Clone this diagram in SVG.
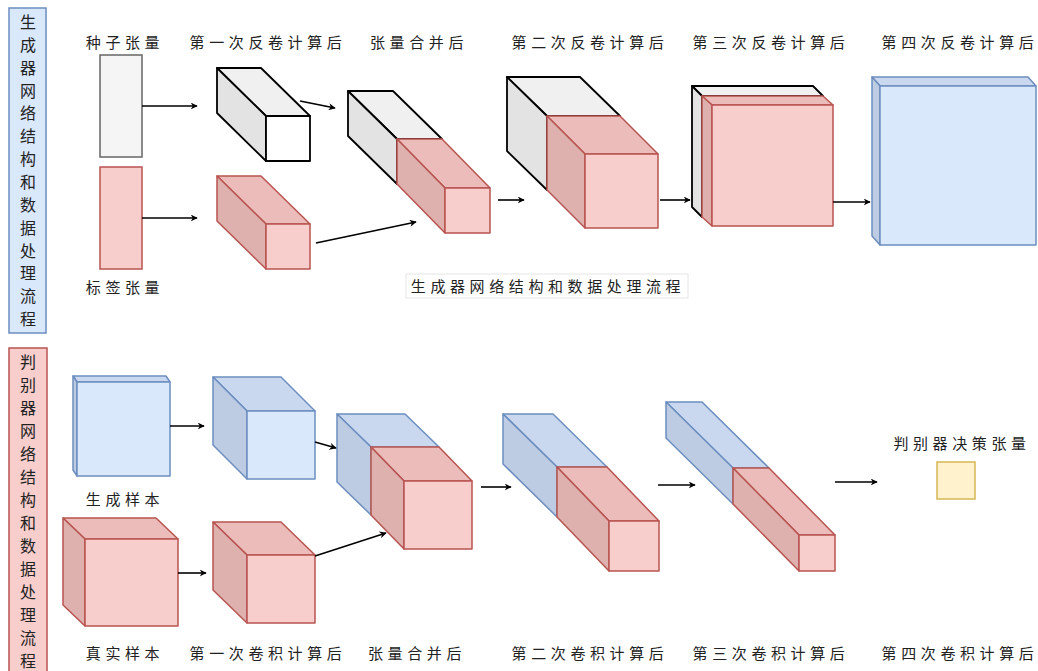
<svg xmlns="http://www.w3.org/2000/svg" width="1038" height="671" viewBox="0 0 1038 671">
  <defs>
    <marker id="arr" viewBox="0 0 10 10" refX="9" refY="5" markerWidth="7" markerHeight="7" markerUnits="userSpaceOnUse" orient="auto">
      <path d="M0,0 L10,5 L0,10 L3,5 z" fill="#000"/>
    </marker>
    <style>
      text { font-family: "Noto Sans CJK SC", "Noto Sans CJK JP", sans-serif; font-size: 15px; fill: #222; }
      .lbl { letter-spacing: 4.6px; text-anchor: middle; }
      .vt { text-anchor: middle; font-size: 16px; }
      .conn line { stroke: #000; stroke-width: 1.6; fill: none; marker-end: url(#arr); }
      .blk polygon, .blk rect { stroke: #000; stroke-width: 1.8; stroke-linejoin: round; }
      .blk .top { fill: #f0f0f0; } .blk .side { fill: #e3e3e3; } .blk .front { fill: #ffffff; }
      .pk polygon, .pk rect { stroke: #b85450; stroke-width: 1.5; stroke-linejoin: round; }
      .pk .top { fill: #ebbcba; } .pk .side { fill: #deb0ae; } .pk .front { fill: #f8cecc; }
      .bl polygon, .bl rect { stroke: #6c8ebf; stroke-width: 1.5; stroke-linejoin: round; }
      .bl .top { fill: #c9d8ee; } .bl .side { fill: #bdcce3; } .bl .front { fill: #dae8fc; }
    </style>
  </defs>

  <!-- side titles -->
  <g id="gen-title">
    <rect x="9" y="8" width="37" height="325" fill="#dae8fc" stroke="#6c8ebf" stroke-width="1.5"/>
    <text class="vt" x="28" y="28">生<tspan x="28" dy="22.85">成</tspan><tspan x="28" dy="22.85">器</tspan><tspan x="28" dy="22.85">网</tspan><tspan x="28" dy="22.85">络</tspan><tspan x="28" dy="22.85">结</tspan><tspan x="28" dy="22.85">构</tspan><tspan x="28" dy="22.85">和</tspan><tspan x="28" dy="22.85">数</tspan><tspan x="28" dy="22.85">据</tspan><tspan x="28" dy="22.85">处</tspan><tspan x="28" dy="22.85">理</tspan><tspan x="28" dy="22.85">流</tspan><tspan x="28" dy="22.85">程</tspan></text>
  </g>
  <g id="dis-title">
    <rect x="9" y="348" width="38" height="330" fill="#f8cecc" stroke="#b85450" stroke-width="1.5"/>
    <text class="vt" x="28" y="368">判<tspan x="28" dy="23">别</tspan><tspan x="28" dy="23">器</tspan><tspan x="28" dy="23">网</tspan><tspan x="28" dy="23">络</tspan><tspan x="28" dy="23">结</tspan><tspan x="28" dy="23">构</tspan><tspan x="28" dy="23">和</tspan><tspan x="28" dy="23">数</tspan><tspan x="28" dy="23">据</tspan><tspan x="28" dy="23">处</tspan><tspan x="28" dy="23">理</tspan><tspan x="28" dy="23">流</tspan><tspan x="28" dy="23">程</tspan></text>
  </g>

  <!-- generator nodes -->
  <g id="seed">
    <rect x="100" y="55" width="42" height="102" fill="#f5f5f5" stroke="#666" stroke-width="1.5"/>
    <text class="lbl" x="125" y="48">种子张量</text>
  </g>
  <g id="label-tensor">
    <rect x="100" y="167" width="42" height="102" fill="#f8cecc" stroke="#b85450" stroke-width="1.5"/>
    <text class="lbl" x="125" y="293">标签张量</text>
  </g>
  <g id="deconv1-seed" class="blk">
    <polygon class="top" points="217,68 261,68 310,116 266,116"/>
    <polygon class="side" points="217,68 266,116 266,161 217,113"/>
    <rect class="front" x="266" y="116" width="44" height="45"/>
  </g>
  <text class="lbl" x="268" y="48">第一次反卷计算后</text>
  <g id="deconv1-label" class="pk">
    <polygon class="top" points="217,176 261,176 310,224 266,224"/>
    <polygon class="side" points="217,176 266,224 266,269 217,221"/>
    <rect class="front" x="266" y="224" width="44" height="45"/>
  </g>
  <g id="gen-merge">
    <g class="blk">
      <polygon class="top" points="348,91 393,91 442,139 397,139"/>
      <polygon class="side" points="348,91 397,139 397,184 348,136"/>
    </g>
    <g class="pk">
      <polygon class="top" points="397,139 442,139 490,188 445,188"/>
      <polygon class="side" points="397,139 445,188 445,233 397,184"/>
      <rect class="front" x="445" y="188" width="45" height="45"/>
    </g>
    <text class="lbl" x="419" y="48">张量合并后</text>
  </g>
  <g id="deconv2">
    <g class="blk">
      <polygon class="top" points="507,77 580,77 620,116 547,116"/>
      <polygon class="side" points="507,77 547,116 547,190 507,151"/>
    </g>
    <g class="pk">
      <polygon class="top" points="547,116 620,116 658,154 585,154"/>
      <polygon class="side" points="547,116 585,154 585,228 547,190"/>
      <rect class="front" x="585" y="154" width="73" height="74"/>
    </g>
    <text class="lbl" x="590" y="48">第二次反卷计算后</text>
  </g>
  <g id="deconv3">
    <g class="blk">
      <polygon class="top" points="692,86 813,86 823,96 702,96"/>
      <polygon class="side" points="692,86 702,96 702,217 692,207"/>
    </g>
    <g class="pk">
      <polygon class="top" points="702,96 823,96 833,105 712,105"/>
      <polygon class="side" points="702,96 712,105 712,226 702,217"/>
      <rect class="front" x="712" y="105" width="121" height="121"/>
    </g>
    <text class="lbl" x="771" y="48">第三次反卷计算后</text>
  </g>
  <g id="deconv4" class="bl">
    <polygon class="top" points="872,77 1028,77 1036,86 880,86"/>
    <polygon class="side" points="872,77 880,86 880,245 872,236"/>
    <rect class="front" x="880" y="86" width="156" height="159"/>
    <text class="lbl" x="960" y="48" style="stroke:none">第四次反卷计算后</text>
  </g>
  <g id="gen-caption">
    <rect x="406" y="274" width="282" height="24" fill="none" stroke="#e6e6e6" stroke-width="1"/>
    <text class="lbl" x="548" y="292">生成器网络结构和数据处理流程</text>
  </g>

  <!-- discriminator nodes -->
  <g id="fake-sample" class="bl">
    <polygon class="top" points="73,376 166,376 170,382 77,382"/>
    <polygon class="side" points="73,376 77,382 77,476 73,470"/>
    <rect class="front" x="77" y="382" width="93" height="94"/>
  </g>
  <text class="lbl" x="125" y="505">生成样本</text>
  <g id="conv1-fake" class="bl">
    <polygon class="top" points="213,377 281,377 315,411 247,411"/>
    <polygon class="side" points="213,377 247,411 247,479 213,445"/>
    <rect class="front" x="247" y="411" width="68" height="68"/>
  </g>
  <g id="real-sample" class="pk">
    <polygon class="top" points="63,518 156,518 178,539 85,539"/>
    <polygon class="side" points="63,518 85,539 85,626 63,605"/>
    <rect class="front" x="85" y="539" width="93" height="87"/>
  </g>
  <text class="lbl" x="125" y="659">真实样本</text>
  <g id="conv1-real" class="pk">
    <polygon class="top" points="213,522 281,522 315,555 247,555"/>
    <polygon class="side" points="213,522 247,555 247,623 213,590"/>
    <rect class="front" x="247" y="555" width="68" height="68"/>
  </g>
  <text class="lbl" x="268" y="659">第一次卷积计算后</text>
  <g id="dis-merge">
    <g class="bl">
      <polygon class="top" points="337,414 405,414 439,447 371,447"/>
      <polygon class="side" points="337,414 371,447 371,515 337,482"/>
    </g>
    <g class="pk">
      <polygon class="top" points="371,447 439,447 472,481 404,481"/>
      <polygon class="side" points="371,447 404,481 404,549 371,515"/>
      <rect class="front" x="404" y="481" width="68" height="68"/>
    </g>
    <text class="lbl" x="417" y="659">张量合并后</text>
  </g>
  <g id="conv2">
    <g class="bl">
      <polygon class="top" points="503,414 553,414 607,467 557,467"/>
      <polygon class="side" points="503,414 557,467 557,517 503,464"/>
    </g>
    <g class="pk">
      <polygon class="top" points="557,467 607,467 659,521 609,521"/>
      <polygon class="side" points="557,467 609,521 609,571 557,517"/>
      <rect class="front" x="609" y="521" width="50" height="50"/>
    </g>
    <text class="lbl" x="590" y="659">第二次卷积计算后</text>
  </g>
  <g id="conv3">
    <g class="bl">
      <polygon class="top" points="666,402 702,402 769,468 733,468"/>
      <polygon class="side" points="666,402 733,468 733,504 666,438"/>
    </g>
    <g class="pk">
      <polygon class="top" points="733,468 769,468 835,535 799,535"/>
      <polygon class="side" points="733,468 799,535 799,571 733,504"/>
      <rect class="front" x="799" y="535" width="36" height="36"/>
    </g>
    <text class="lbl" x="771" y="659">第三次卷积计算后</text>
  </g>
  <g id="decision">
    <rect x="937" y="462" width="38" height="37" fill="#fff2cc" stroke="#d6b656" stroke-width="1.5"/>
    <text class="lbl" x="962" y="449">判别器决策张量</text>
    <text class="lbl" x="960" y="659">第四次卷积计算后</text>
  </g>

  <!-- connectors -->
  <g id="connectors" class="conn">
    <line x1="142" y1="106" x2="197" y2="106"/>
    <line x1="142" y1="218" x2="197" y2="218"/>
    <line x1="300" y1="101" x2="335" y2="108"/>
    <line x1="316" y1="243" x2="416" y2="222"/>
    <line x1="498" y1="200" x2="524" y2="200"/>
    <line x1="660" y1="200" x2="690" y2="200"/>
    <line x1="833" y1="202" x2="870" y2="202"/>
    <line x1="170" y1="426" x2="204" y2="426"/>
    <line x1="315" y1="442" x2="336" y2="448"/>
    <line x1="178" y1="573" x2="206" y2="573"/>
    <line x1="315" y1="556" x2="386" y2="533"/>
    <line x1="481" y1="487" x2="511" y2="487"/>
    <line x1="658" y1="485" x2="695" y2="485"/>
    <line x1="835" y1="482" x2="877" y2="482"/>
  </g>
</svg>
